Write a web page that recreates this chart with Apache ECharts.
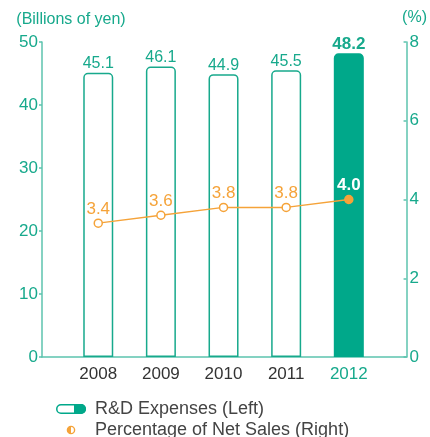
<!DOCTYPE html>
<html><head><meta charset="utf-8">
<script src="https://cdn.jsdelivr.net/npm/echarts@6/dist/echarts.min.js"></script>
<style>html,body{margin:0;padding:0;background:#fff}#c{width:430px;height:437px}</style>
</head><body><div id="c"></div>
<script>
var years = ['2008', '2009', '2010', '2011', '2012'];
var rdExpenses = [45.1, 46.1, 44.9, 45.5, 48.2];
var pctNetSales = [3.4, 3.6, 3.8, 3.8, 4.0];
var leftTicks = [0, 10, 20, 30, 40, 50];
var rightTicks = [0, 2, 4, 6, 8];

var TEAL = '#00a88a', TEAL_LINE = '#5cc3ae', TEAL_TXT = '#17a98c', ORANGE = '#f5a339';
var FONT = 'Liberation Sans';
function svgUri(s){ return 'image://data:image/svg+xml;charset=utf-8,' + encodeURIComponent(s); }
var pillIcon = svgUri("<svg xmlns='http://www.w3.org/2000/svg' width='30' height='10'><rect x='0.75' y='0.75' width='28.5' height='8.5' rx='4.25' fill='#fff' stroke='" + TEAL + "' stroke-width='1.5'/><path d='M18 0 H25 A5 5 0 0 1 25 10 H18 Z' fill='" + TEAL + "'/></svg>");
var dotIcon = svgUri("<svg xmlns='http://www.w3.org/2000/svg' width='30' height='10'><circle cx='15' cy='5' r='3.6' fill='#fff' stroke='" + ORANGE + "' stroke-width='1.4'/><path d='M15 1.4 A3.6 3.6 0 0 0 15 8.6 Z' fill='" + ORANGE + "'/></svg>");

var barData = rdExpenses.map(function(v, i){
  var last = i === years.length - 1;
  return {
    value: [i, v],
    itemStyle: last ? {color: TEAL, borderColor: TEAL} : {color: '#fff', borderColor: TEAL_TXT},
    label: last ? {fontWeight: 'bold', fontSize: 17} : {}
  };
});
var lineData = pctNetSales.map(function(v, i){
  var last = i === years.length - 1;
  return {
    value: [i, v],
    itemStyle: last ? {color: ORANGE} : {color: '#fff'},
    label: last ? {color: '#fff', fontWeight: 'bold'} : {}
  };
});

var legendText = {fontFamily: FONT, fontSize: 18, color: '#444', padding: [0, 0, 0, 4]};
var chart = echarts.init(document.getElementById('c'), null, {renderer: 'canvas'});
chart.setOption({
  animation: false,
  textStyle: {fontFamily: FONT},
  grid: {left: 42, right: 22, top: 42, bottom: 80},
  legend: [{
    orient: 'vertical', left: 51, top: 395, itemWidth: 30, itemHeight: 10,
    textStyle: legendText,
    data: [{name: 'R&D Expenses (Left)', icon: pillIcon}]
  }, {
    orient: 'vertical', left: 51, top: 416, itemWidth: 30, itemHeight: 10,
    textStyle: legendText,
    data: [{name: 'Percentage of Net Sales (Right)', icon: dotIcon}]
  }],
  xAxis: {
    type: 'value', min: -0.898, max: 4.922,
    axisLine: {show: true, onZero: false, lineStyle: {color: TEAL_LINE, width: 1.5}},
    axisTick: {show: false}, splitLine: {show: false},
    axisLabel: {
      customValues: [0, 1, 2, 3, 4], margin: 9, fontSize: 17, fontFamily: FONT, color: '#333',
      formatter: function(v){ var i = Math.round(v); return i === years.length - 1 ? '{h|' + years[i] + '}' : years[i]; },
      rich: {h: {color: TEAL_TXT, fontSize: 17, fontFamily: FONT}}
    }
  },
  yAxis: [{
    type: 'value', min: leftTicks[0], max: leftTicks[leftTicks.length - 1], interval: 10,
    name: '(Billions of yen)', nameLocation: 'end', nameGap: 14,
    nameTextStyle: {color: TEAL_TXT, fontSize: 16, fontFamily: FONT, align: 'center', padding: [0, 0, 0, 58]},
    axisLine: {show: true, onZero: false, lineStyle: {color: TEAL_LINE, width: 1.5}},
    axisTick: {show: true, inside: false, length: 3, lineStyle: {color: TEAL_LINE, width: 1.5}},
    axisLabel: {color: TEAL_TXT, fontSize: 17, fontFamily: FONT, margin: 4},
    splitLine: {show: false}
  }, {
    type: 'value', position: 'right', min: rightTicks[0], max: rightTicks[rightTicks.length - 1], interval: 2,
    name: '(%)', nameLocation: 'end', nameGap: 16,
    nameTextStyle: {color: TEAL_TXT, fontSize: 16, fontFamily: FONT, align: 'center', padding: [0, 0, 0, 16]},
    axisLine: {show: true, onZero: false, lineStyle: {color: TEAL_LINE, width: 1.5}},
    axisTick: {show: true, inside: true, length: 3, lineStyle: {color: TEAL_LINE, width: 1.5}},
    axisLabel: {color: TEAL_TXT, fontSize: 17, fontFamily: FONT, margin: 3},
    splitLine: {show: false}
  }],
  series: [{
    name: 'R&D Expenses (Left)', type: 'bar', yAxisIndex: 0, barWidth: 30,
    itemStyle: {borderWidth: 1.5, borderRadius: [4, 4, 0, 0]},
    label: {show: true, position: 'top', distance: 1, color: TEAL_TXT, fontSize: 16, fontFamily: FONT,
      formatter: function(p){ return p.value[1].toFixed(1); }},
    data: barData
  }, {
    name: 'Percentage of Net Sales (Right)', type: 'line', yAxisIndex: 1, z: 5,
    symbol: 'circle', symbolSize: 8,
    lineStyle: {color: ORANGE, width: 1.5},
    itemStyle: {borderColor: ORANGE, borderWidth: 1.5},
    label: {show: true, position: 'top', distance: 1, color: ORANGE, fontSize: 17, fontFamily: FONT,
      formatter: function(p){ return p.value[1].toFixed(1); }},
    data: lineData
  }]
});
</script></body></html>
